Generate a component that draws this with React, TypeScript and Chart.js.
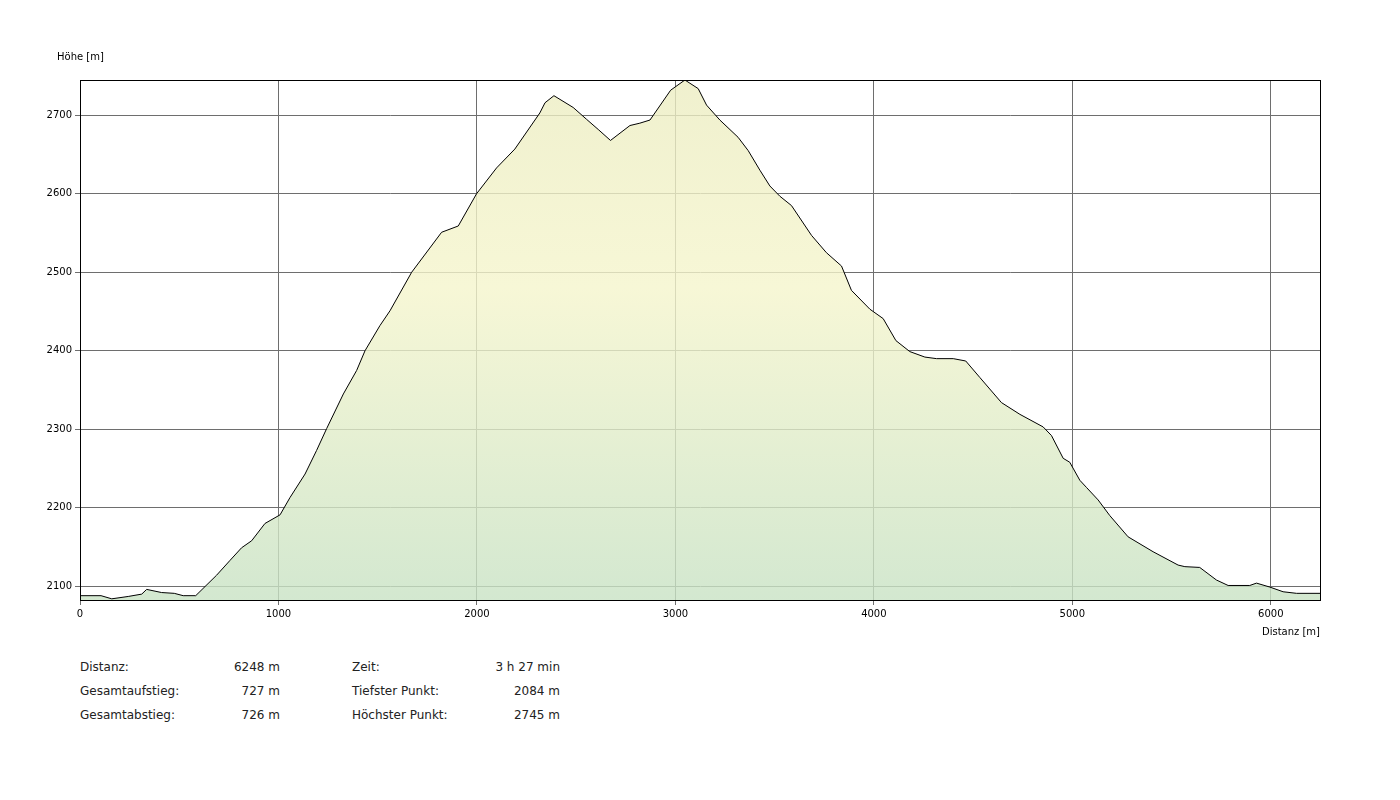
import React, { useEffect, useRef } from "react";
import { Chart, registerables } from "chart.js";

Chart.register(...registerables);

const distances = [0, 106, 160, 243, 311, 336, 411, 475, 520, 583, 688, 756, 814, 865, 932, 1008, 1058, 1134, 1192, 1243, 1327, 1394, 1436, 1511, 1562, 1671, 1822, 1906, 1998, 2099, 2191, 2317, 2343, 2388, 2485, 2552, 2611, 2673, 2771, 2821, 2872, 2976, 3048, 3115, 3157, 3224, 3316, 3367, 3426, 3476, 3526, 3585, 3686, 3761, 3837, 3887, 3980, 4047, 4111, 4181, 4257, 4316, 4400, 4463, 4534, 4643, 4736, 4853, 4895, 4954, 4987, 5038, 5071, 5130, 5189, 5281, 5407, 5533, 5567, 5642, 5726, 5785, 5894, 5928, 5995, 6062, 6130, 6248];
const heights = [2088, 2088, 2084, 2087, 2090, 2096, 2092, 2091, 2088, 2088, 2114, 2133, 2149, 2158, 2180, 2191, 2213, 2243, 2273, 2301, 2345, 2375, 2400, 2432, 2451, 2500, 2551, 2559, 2600, 2633, 2657, 2703, 2716, 2725, 2710, 2695, 2682, 2668, 2687, 2690, 2694, 2732, 2745, 2734, 2713, 2694, 2672, 2655, 2630, 2610, 2597, 2585, 2547, 2525, 2508, 2477, 2453, 2441, 2413, 2399, 2392, 2390, 2390, 2387, 2366, 2334, 2319, 2303, 2292, 2263, 2258, 2235, 2226, 2210, 2190, 2163, 2144, 2127, 2125, 2124, 2108, 2101, 2101, 2104, 2099, 2093, 2091, 2091];

const xTicks = [0, 1000, 2000, 3000, 4000, 5000, 6000];
const yTicks = [2100, 2200, 2300, 2400, 2500, 2600, 2700];

const yAxisTitle = "Höhe [m]";
const xAxisTitle = "Distanz [m]";
const statsLeft = [
  ["Distanz:", "6248 m"],
  ["Gesamtaufstieg:", "727 m"],
  ["Gesamtabstieg:", "726 m"],
];
const statsRight = [
  ["Zeit:", "3 h 27 min"],
  ["Tiefster Punkt:", "2084 m"],
  ["Höchster Punkt:", "2745 m"],
];

const FONT = "'DejaVu Sans', Verdana, sans-serif";

const framePlugin = {
  id: "frame",
  afterDraw(chart: any) {
    const { ctx, chartArea } = chart;
    ctx.save();
    ctx.strokeStyle = "#000";
    ctx.lineWidth = 1;
    ctx.strokeRect(
      Math.round(chartArea.left) + 0.5,
      Math.round(chartArea.top) + 0.5,
      Math.round(chartArea.right - chartArea.left),
      Math.round(chartArea.bottom - chartArea.top)
    );
    ctx.fillStyle = "#000";
    ctx.font = `10px ${FONT}`;
    ctx.textBaseline = "middle";
    ctx.textAlign = "left";
    ctx.fillText(yAxisTitle, 57, 57);
    ctx.textAlign = "right";
    ctx.fillText(xAxisTitle, chartArea.right, 632);
    ctx.restore();
  },
};

export default function App() {
  const ref = useRef<HTMLCanvasElement | null>(null);
  useEffect(() => {
    if (!ref.current) return;
    const chart = new Chart(ref.current, {
      type: "line",
      data: {
        datasets: [
          {
            data: distances.map((d, i) => ({ x: d, y: heights[i] })),
            borderColor: "#000",
            borderWidth: 1,
            pointRadius: 0,
            tension: 0,
            fill: "start",
            backgroundColor: (c: any) => {
              const area = c.chart.chartArea;
              if (!area) return "rgba(200,226,196,0.8)";
              const g = c.chart.ctx.createLinearGradient(0, area.top, 0, area.bottom);
              g.addColorStop(0, "rgba(236,237,194,0.8)");
              g.addColorStop(0.4, "rgba(245,245,204,0.8)");
              g.addColorStop(1, "rgba(200,226,196,0.8)");
              return g;
            },
          },
        ],
      },
      options: {
        animation: false,
        responsive: false,
        layout: { padding: { top: 80, right: 80, left: 0, bottom: 0 } },
        plugins: { legend: { display: false }, tooltip: { enabled: false } },
        scales: {
          x: {
            type: "linear",
            min: 0,
            max: 6248,
            afterFit: (s: any) => {
              s.height = 50;
            },
            afterBuildTicks: (s: any) => {
              s.ticks = xTicks.map((v) => ({ value: v }));
            },
            ticks: {
              color: "#000",
              font: { family: FONT, size: 10 },
              padding: 3,
              maxRotation: 0,
              autoSkip: false,
              callback: (v: any) => String(v),
            },
            grid: { color: "#6e6e6e", tickLength: 5, lineWidth: 1 },
            border: { display: true, color: "#000" },
          },
          y: {
            type: "linear",
            min: 2082.5,
            max: 2745,
            afterFit: (s: any) => {
              s.width = 80;
            },
            afterBuildTicks: (s: any) => {
              s.ticks = yTicks.map((v) => ({ value: v }));
            },
            ticks: {
              color: "#000",
              font: { family: FONT, size: 10 },
              padding: 3,
              autoSkip: false,
              callback: (v: any) => String(v),
            },
            grid: { color: "#6e6e6e", tickLength: 5, lineWidth: 1 },
            border: { display: true, color: "#000" },
          },
        },
      },
      plugins: [framePlugin],
    });
    return () => chart.destroy();
  }, []);

  const rowTop = [659, 683, 707];
  const textStyle: React.CSSProperties = {
    position: "absolute",
    fontFamily: FONT,
    fontSize: 12,
    color: "#222",
    lineHeight: "16px",
    whiteSpace: "nowrap",
  };
  return (
    <div style={{ position: "absolute", left: 0, top: 0, width: 1400, height: 800, background: "#fff" }}>
      <canvas ref={ref} width={1400} height={650} style={{ position: "absolute", left: 0, top: 0 }} />
      {statsLeft.map(([k, v], i) => (
        <React.Fragment key={"l" + i}>
          <div style={{ ...textStyle, left: 80, top: rowTop[i] }}>{k}</div>
          <div style={{ ...textStyle, right: 1400 - 280, top: rowTop[i], textAlign: "right" }}>{v}</div>
        </React.Fragment>
      ))}
      {statsRight.map(([k, v], i) => (
        <React.Fragment key={"r" + i}>
          <div style={{ ...textStyle, left: 352, top: rowTop[i] }}>{k}</div>
          <div style={{ ...textStyle, right: 1400 - 560, top: rowTop[i], textAlign: "right" }}>{v}</div>
        </React.Fragment>
      ))}
    </div>
  );
}
